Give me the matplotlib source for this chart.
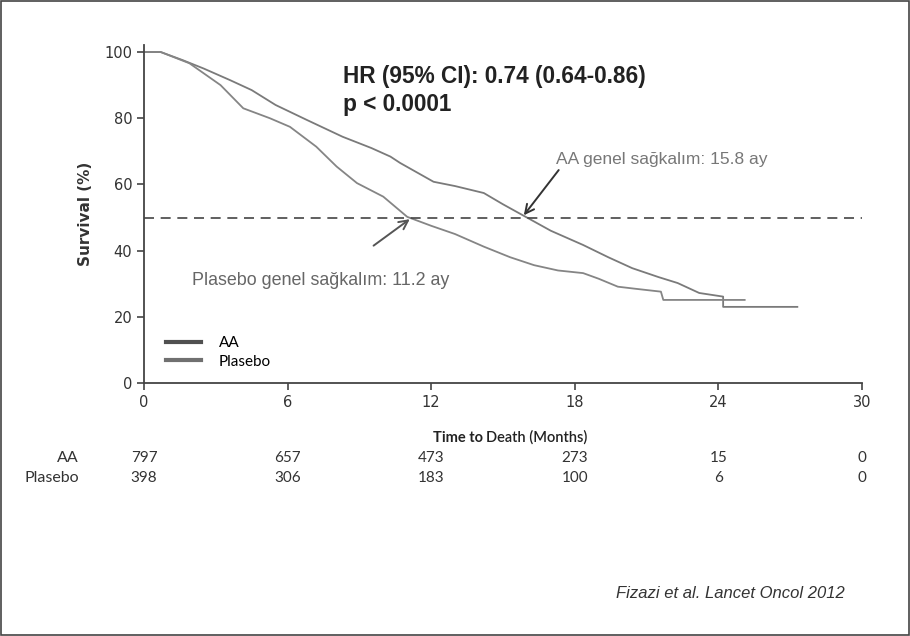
import matplotlib.pyplot as plt
from matplotlib.lines import Line2D
from matplotlib.patches import Rectangle

# Kaplan-Meier curves (months, survival %)
aa_t = [0, 0.7, 1.6, 2.5, 3.6, 4.5, 5.5, 6.8, 8.3, 9.5, 10.3, 10.7, 12.1, 13.0,
        14.2, 15.0, 16.05, 17.0, 18.35, 19.4, 20.4, 21.5, 22.3, 23.2, 24.2, 24.2, 27.3]
aa_s = [100, 100, 97.6, 95, 91.5, 88.5, 84, 79.5, 74.4, 71, 68.4, 66.5, 60.8, 59.5,
        57.4, 54, 49.8, 46, 41.7, 38, 34.7, 32, 30.2, 27.2, 26.1, 23, 23]

pl_t = [0, 0.7, 1.9, 3.2, 4.15, 5.26, 6.1, 7.2, 8.05, 8.9, 10.0, 11.0, 12.0, 13.0,
        14.2, 15.3, 16.3, 17.3, 18.35, 19.0, 19.8, 20.5, 21.6, 21.7, 25.1]
pl_s = [100, 100, 96.6, 90, 83, 80, 77.4, 71.4, 65.4, 60.4, 56.3, 50.2, 47.5, 45,
        41.2, 38, 35.6, 34, 33.2, 31.5, 29.1, 28.5, 27.6, 25.1, 25.1]

risk_times = [0, 6, 12, 18, 24, 30]
aa_risk = [797, 657, 473, 273, 15, 0]
pl_risk = [398, 306, 183, 100, 6, 0]

aa_median = 15.8
pl_median = 11.2

fig = plt.figure(figsize=(9.1, 6.36), dpi=100)
fig.patches.append(Rectangle((0.001, 0.001), 0.998, 0.997, transform=fig.transFigure,
                             fill=False, edgecolor="#444444", linewidth=1.2))
ax = fig.add_axes([0.1582, 0.3978, 0.789, 0.5308])

ax.plot(aa_t, aa_s, color="#7a7a7a", lw=1.3)
ax.plot(pl_t, pl_s, color="#858585", lw=1.3)
ax.axhline(50, color="#444444", lw=1.2, ls=(0, (6, 4)))

ax.set_xlim(0, 30)
ax.set_ylim(0, 102)
ax.set_xticks(risk_times)
ax.set_yticks([0, 20, 40, 60, 80, 100])
ax.spines["top"].set_visible(False)
ax.spines["right"].set_visible(False)
for s in ["left", "bottom"]:
    ax.spines[s].set_color("#444444")
    ax.spines[s].set_linewidth(1.3)
ax.tick_params(colors="#444444", labelcolor="#333333", labelsize=10.5, length=5, width=1.2)
ax.set_ylabel("Survival (%)", fontsize=11, fontweight="bold", color="#333333", labelpad=8)

# annotations
ax.text(8.3, 96, "HR (95% CI): 0.74 (0.64-0.86)\np < 0.0001", fontsize=16.3,
        fontweight="bold", family="Liberation Sans", color="#222222", va="top",
        linespacing=1.25)
ax.annotate("", xy=(aa_median, 50), xytext=(17.4, 65),
            arrowprops=dict(arrowstyle="->", color="#333333", lw=1.4, mutation_scale=16))
ax.text(17.2, 67.5, "AA genel sağkalım: 15.8 ay", fontsize=12.5, family="Liberation Sans",
        color="#777777", va="center")
ax.annotate("", xy=(pl_median, 50), xytext=(9.5, 41),
            arrowprops=dict(arrowstyle="->", color="#555555", lw=1.4, mutation_scale=16))
ax.text(2.0, 31, "Plasebo genel sağkalım: 11.2 ay", fontsize=12.9, family="Liberation Sans",
        color="#666666", va="center")

handles = [Line2D([], [], color="#505050", lw=3), Line2D([], [], color="#707070", lw=3)]
ax.legend(handles, ["AA", "Plasebo"], loc="upper left", bbox_to_anchor=(0.011, 0.18),
          frameon=False, prop={"family": "Lato", "size": 11}, handlelength=2.3,
          handletextpad=1.2, labelspacing=0.3)

# x label: "Time to" bold + "Death (Months)" on the same baseline
t1 = ax.text(0.4025, -0.175, "Time to ", transform=ax.transAxes, fontsize=10.5,
             fontweight="bold", family="Lato", color="#222222", va="baseline")
fig.canvas.draw()
x_end = ax.transAxes.inverted().transform(
    t1.get_window_extent(fig.canvas.get_renderer()).p1)[0]
ax.text(x_end, -0.175, "Death (Months)", transform=ax.transAxes, fontsize=10.5,
        family="Lato", color="#222222", fontweight="semibold", va="baseline")

# numbers at risk
for label, row, y in [("AA", aa_risk, 458), ("Plasebo", pl_risk, 478)]:
    fig.text(79 / 910, 1 - y / 636, label, ha="right", va="center", fontsize=11.5,
             family="Lato", color="#333333")
    for t, n in zip(risk_times, row):
        ax.text(t, -(y - 383) / (383 - 45.4), str(n), transform=ax.get_xaxis_transform(),
                ha="center", va="center", fontsize=11, family="Lato", color="#333333")

fig.text(845 / 910, 1 - 594 / 636, "Fizazi et al. Lancet Oncol 2012", ha="right",
         va="center", fontsize=12, style="italic", family="Liberation Sans", color="#333333")

fig.savefig("out.png", dpi=100)
